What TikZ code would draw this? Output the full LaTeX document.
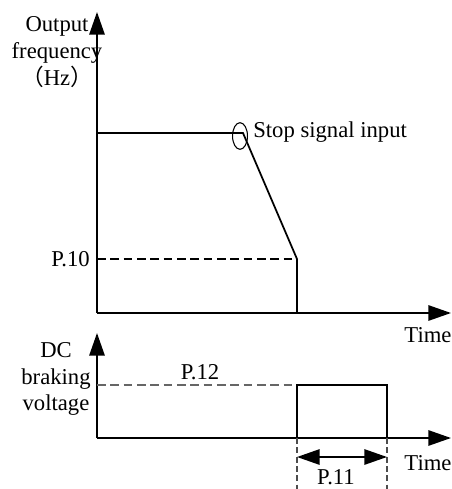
\documentclass[tikz,border=0pt]{standalone}
\usepackage{fontspec}
\setmainfont{Liberation Serif}
\newfontfamily\cjk{Noto Sans CJK SC}
\usepackage{tikz}
\usetikzlibrary{positioning,arrows.meta}

\begin{document}
\begin{tikzpicture}[
    x=0.75pt, y=-0.75pt,
    axis/.style={line width=1.4pt, -{Triangle[length=17pt, width=11.5pt]}},
    curve/.style={line width=1.3pt},
    guide/.style={line width=0.8pt, dash pattern=on 6.5pt off 3.5pt},
    span/.style={line width=1.4pt, {Triangle[length=17pt, width=11.5pt]}-{Triangle[length=17pt, width=11.5pt]}},
    lbl/.style={font=\fontsize{17}{20}\selectfont, inner sep=0pt, align=center}
]
    \useasboundingbox (0,0) rectangle (451,489);

    % Output frequency axes
    \coordinate (f_o) at (97,313);
    \coordinate (f_top) at (97,12);
    \coordinate (f_end) at (451,313);
    \draw[axis] (f_o) -- (f_top);
    \draw[axis] (f_o) -- (f_end);

    % Frequency curve
    \coordinate (f_start) at (97,133);
    \coordinate (f_stop) at (243,133);
    \coordinate (f_low) at (297,259);
    \coordinate (f_zero) at (297,313);
    \coordinate (f_p10) at (97,259);
    \draw[curve] (f_start) -- (f_stop) -- (f_low) -- (f_zero);
    \draw[guide] (f_p10) -- (f_low);
    \draw[line width=0.8pt] (240,136) ellipse [x radius=5.6pt, y radius=10pt];

    \node[lbl] (f_name) at (57,52) {Output\\frequency\\{\cjk （}Hz{\cjk ）}};
    \node[lbl, anchor=west] (stop_sig) at (253,132) {Stop signal input};
    \node[lbl, anchor=east] (p10) at (90,259) {P.10};
    \node[lbl] (f_time) at (428,335) {Time};

    % DC braking axes
    \coordinate (b_o) at (97,438);
    \coordinate (b_top) at (97,333);
    \coordinate (b_end) at (451,438);
    \draw[axis] (b_o) -- (b_top);
    \draw[axis] (b_o) -- (b_end);

    % Braking pulse
    \coordinate (b_p12) at (97,385);
    \coordinate (b_on) at (297,438);
    \coordinate (b_hi) at (297,385);
    \coordinate (b_hi2) at (387,385);
    \coordinate (b_off) at (387,438);
    \draw[guide, draw=black!60] (b_p12) -- (b_hi);
    \draw[curve] (b_on) -- (b_hi) -- (b_hi2) -- (b_off);

    % P.11 span
    \coordinate (s_l) at (297,489);
    \coordinate (s_r) at (387,489);
    \draw[guide, draw=black!70, dash pattern=on 4.5pt off 2.5pt] (b_on) -- (s_l);
    \draw[guide, draw=black!70, dash pattern=on 4.5pt off 2.5pt] (b_off) -- (s_r);
    \coordinate (a_l) at (297,457);
    \coordinate (a_r) at (387,457);
    \draw[span] (a_l) -- (a_r);

    \node[lbl] (b_name) at (56,379) {DC\\braking\\voltage};
    \node[lbl] (p12) at (200,372) {P.12};
    \node[lbl] (p11) at (336,477) {P.11};
    \node[lbl] (b_time) at (428,463) {Time};
\end{tikzpicture}
\end{document}
